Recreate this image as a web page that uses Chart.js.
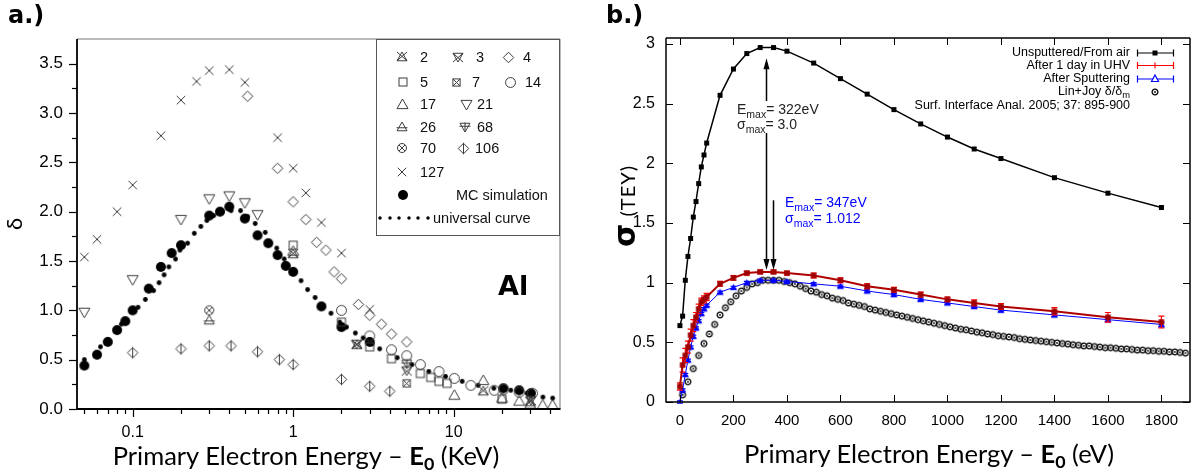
<!DOCTYPE html>
<html>
<head>
<meta charset="utf-8">
<script src="https://cdn.jsdelivr.net/npm/chart.js@4.4.1/dist/chart.umd.min.js"></script>
<style>
  body { margin: 0; background: #fff; }
  #wrap { position: relative; width: 1196px; height: 476px; overflow: hidden; background: #fff; }
  canvas { position: absolute; top: 0; }
  .t { position: absolute; white-space: nowrap; color: #000; line-height: 1; }
  .panel { font-family: "DejaVu Sans", sans-serif; font-weight: bold; font-size: 24px; }
  .axt { font-family: Lato, sans-serif; font-size: 25.5px; transform: translateX(-50%); }
  .axt sub { font-size: 70%; vertical-align: -0.3em; line-height: 0; }
</style>
</head>
<body>
<div id="wrap">
  <canvas id="chartA" width="600" height="476" style="left:0"></canvas>
  <canvas id="chartB" width="596" height="476" style="left:600px"></canvas>
  <div class="t panel" style="left:8px;top:3px">a.)</div>
  <div class="t panel" style="left:606px;top:3px">b.)</div>
  <div class="t" style="left:498px;top:270px;font:bold 27px 'DejaVu Sans',sans-serif">Al</div>
  <div class="t axt" style="left:306px;top:443px">Primary Electron Energy – <b>E<sub>0</sub></b> (KeV)</div>
  <div class="t axt" style="left:929px;top:441px">Primary Electron Energy – <b>E<sub>0</sub></b> (eV)</div>
  <div class="t" style="left:625px;top:206px;transform:translate(-50%,-50%) rotate(-90deg);font-family:Lato,sans-serif;font-size:20px;letter-spacing:1px">
    <b style="font-family:'DejaVu Sans',sans-serif;font-size:30px">σ</b> (TEY)</div>
</div>
<script>
// ---------- panel a: yield δ vs E0 (keV), log x ----------
const aSym2 = [[1.0,1.57],[2.5,0.65],[15.3,0.18],[30,0.07]];
const aSym3 = [[2.48,0.66],[5.1,0.39],[30.3,0.09]];
const aSym4 = [[0.52,3.17],[0.8,2.44],[1.0,2.10],[1.2,1.92],[1.4,1.69],[1.6,1.61],[1.8,1.39],[2.0,1.32],[2.55,1.06],[3.0,0.95],[3.55,0.86],[4.1,0.76],[5.1,0.68]];
const aSym5 = [[1.0,1.66],[2.0,0.88],[3.0,0.63],[4.1,0.51],[6.2,0.36],[7.2,0.32],[8.1,0.28],[9.1,0.26],[20,0.10]];
const aSym7 = [[5.1,0.26]];
const aSym14 = [[2.0,1.0],[3.0,0.74],[4.1,0.60],[5.1,0.54],[6.2,0.45],[8.1,0.38],[10.1,0.31],[12.8,0.24],[17.9,0.19],[20.5,0.20],[25.6,0.17],[31,0.16]];
const aSym17 = [[1.0,1.60],[10.1,0.14],[15.3,0.29],[20,0.11],[25.6,0.08],[30,0.05],[35.9,0.04],[41.4,0.04]];
const aSym21 = [[0.05,0.98],[0.1,1.31],[0.2,1.92],[0.3,2.13],[0.4,2.16],[0.5,2.09],[0.6,1.97]];
const aSym26 = [[0.3,0.90]];
const aSym68 = [[5.1,0.46]];
const aSym70 = [[0.3,1.0]];
const aSym106 = [[0.1,0.57],[0.2,0.61],[0.3,0.64],[0.41,0.64],[0.6,0.58],[0.82,0.50],[1.0,0.45],[2.0,0.30],[3.0,0.23],[4.0,0.18]];
const aSym127 = [[0.05,1.54],[0.06,1.72],[0.08,2.0],[0.1,2.27],[0.15,2.77],[0.2,3.13],[0.25,3.32],[0.3,3.43],[0.4,3.44],[0.5,3.31],[0.8,2.75],[1.0,2.44],[1.2,2.19],[1.5,1.89],[2.0,1.58],[3.0,1.01]];
const aMC = [[0.05,0.44],[0.06,0.55],[0.07,0.68],[0.08,0.80],[0.09,0.89],[0.1,1.0],[0.126,1.22],[0.15,1.44],[0.175,1.58],[0.2,1.66],[0.3,1.96],[0.35,2.0],[0.4,2.05],[0.5,1.93],[0.6,1.76],[0.7,1.68],[0.8,1.56],[0.9,1.45],[1.0,1.39],[1.5,1.04],[2.0,0.83],[3.0,0.68],[20.4,0.21],[25.6,0.19],[30.3,0.16]];
const aUniversal = [[0.05,0.50],[0.063,0.63],[0.07,0.70],[0.085,0.86],[0.108,1.03],[0.12,1.11],[0.135,1.20],[0.146,1.28],[0.157,1.36],[0.168,1.44],[0.185,1.52],[0.197,1.61],[0.22,1.68],[0.242,1.78],[0.266,1.85],[0.29,1.91],[0.32,1.96],[0.36,2.0],[0.41,2.01],[0.47,2.01],[0.52,1.95],[0.58,1.88],[0.67,1.79],[0.79,1.63],[0.88,1.52],[1.0,1.41],[1.12,1.30],[1.23,1.21],[1.37,1.13],[1.53,1.05],[1.72,0.97],[1.95,0.88],[2.15,0.83],[2.44,0.77],[2.73,0.72],[3.1,0.66],[3.46,0.61],[4.45,0.52],[5.5,0.45],[7.0,0.38],[8.9,0.33],[11.3,0.28],[14.2,0.24],[17.8,0.21],[22.7,0.19],[28.6,0.16],[36,0.12],[41.4,0.11]];

const aTicksX = [0.1, 1, 10];
const aTickLabelsX = ['0.1', '1', '10'];
const aMinorX = [0.05,0.06,0.07,0.08,0.09,0.2,0.3,0.4,0.5,0.6,0.7,0.8,0.9,2,3,4,5,6,7,8,9,20,30,40];
const aTicksY = [0, 0.5, 1, 1.5, 2, 2.5, 3, 3.5];
const aMinorY = [0.25, 0.75, 1.25, 1.75, 2.25, 2.75, 3.25];

// ---------- panel b: TEY vs E0 (eV) ----------
const bEnergy = [0,10,20,30,40,50,60,70,80,90,100,150,200,250,300,350,400,500,600,700,800,900,1000,1100,1200,1400,1600,1800];
const bUnsputtered = [0.64,0.72,1.02,1.22,1.37,1.55,1.68,1.83,1.97,2.07,2.17,2.57,2.79,2.92,2.97,2.97,2.94,2.84,2.71,2.58,2.45,2.33,2.22,2.12,2.04,1.88,1.75,1.63];
const bUhv = [0.13,0.31,0.39,0.46,0.56,0.64,0.71,0.78,0.84,0.86,0.88,0.99,1.04,1.08,1.09,1.09,1.08,1.06,1.02,0.97,0.94,0.90,0.86,0.83,0.80,0.76,0.71,0.67];
const bUhvErr = [0.03,0.06,0.06,0.05,0.05,0.05,0.04,0.04,0.03,0.03,0.03,0.02,0.02,0.015,0.015,0.015,0.015,0.02,0.02,0.02,0.02,0.02,0.02,0.025,0.025,0.03,0.04,0.05];
const bSputtered = [0.0,0.10,0.23,0.35,0.46,0.55,0.62,0.68,0.74,0.78,0.81,0.92,0.96,1.00,1.02,1.02,1.01,0.99,0.97,0.93,0.90,0.86,0.83,0.80,0.77,0.73,0.69,0.65];
const bSputteredErr = [0.01,0.01,0.01,0.01,0.01,0.01,0.01,0.01,0.01,0.01,0.01,0.01,0.01,0.01,0.01,0.01,0.01,0.01,0.01,0.01,0.01,0.01,0.01,0.01,0.015,0.015,0.015,0.02];
const ljEnergy = [10,30,50,70,90,110,130,150,170,190,
  210,230,250,270,290,310,330,350,370,390,
  410,430,450,470,490,510,530,550,570,590,
  610,630,650,670,690,710,730,750,770,790,
  810,830,850,870,890,910,930,950,970,990,
  1010,1030,1050,1070,1090,1110,1130,1150,1170,1190,
  1210,1230,1250,1270,1290,1310,1330,1350,1370,1390,
  1410,1430,1450,1470,1490,1510,1530,1550,1570,1590,
  1610,1630,1650,1670,1690,1710,1730,1750,1770,1790,
  1810,1830,1850,1870,1890];
const ljTey = [0.06,0.17,0.28,0.39,0.49,0.57,0.65,0.73,0.79,0.84,
  0.89,0.93,0.96,0.99,1.00,1.02,1.02,1.02,1.02,1.01,
  1.00,0.99,0.97,0.95,0.93,0.92,0.90,0.89,0.87,0.86,
  0.85,0.83,0.82,0.81,0.80,0.78,0.77,0.76,0.75,0.74,
  0.73,0.72,0.71,0.70,0.69,0.68,0.67,0.66,0.65,0.64,
  0.63,0.62,0.61,0.605,0.595,0.585,0.58,0.57,0.565,0.555,
  0.55,0.545,0.54,0.53,0.525,0.52,0.515,0.51,0.505,0.50,
  0.495,0.49,0.485,0.48,0.475,0.47,0.47,0.465,0.46,0.455,
  0.455,0.45,0.445,0.445,0.44,0.435,0.435,0.43,0.43,0.425,
  0.425,0.42,0.42,0.415,0.41];

const emaxBlack = 322, sigmaMaxBlack = 3.0;
const emaxBlue = 347, sigmaMaxBlue = 1.012;

const bTicksX = [0,200,400,600,800,1000,1200,1400,1600,1800];
const bTicksY = [0, 0.5, 1, 1.5, 2, 2.5, 3];
const bTickLabelsY = ['0', '0.5', '1', '1.5', '2', '2.5', '3'];

// ---------- helpers ----------
const FONT = '"Liberation Sans", Arial, sans-serif';
Chart.defaults.font.family = FONT;
Chart.defaults.color = '#000';

const pairs = arr => arr.map(([x, y]) => ({x, y}));
const xy = (xs, ys) => xs.map((x, i) => ({x, y: ys[i]}));

function marker(kind, size, color, lw) {
  const W = Math.ceil(size + 4);
  const c = document.createElement('canvas');
  c.width = c.height = W;
  const g = c.getContext('2d');
  g.translate(W / 2, W / 2);
  g.strokeStyle = color; g.fillStyle = color; g.lineWidth = lw || 1;
  const r = size / 2;
  const poly = pts => { g.beginPath(); pts.forEach((p, i) => i ? g.lineTo(p[0], p[1]) : g.moveTo(p[0], p[1])); g.closePath(); };
  const line = (x1, y1, x2, y2) => { g.beginPath(); g.moveTo(x1, y1); g.lineTo(x2, y2); g.stroke(); };
  const up = [[0, -r], [r, r * 0.75], [-r, r * 0.75]];
  const dn = [[0, r], [r, -r * 0.75], [-r, -r * 0.75]];
  const dia = [[0, -r], [r, 0], [0, r], [-r, 0]];
  const s = r * 0.8;
  switch (kind) {
    case 'tri': poly(up); g.stroke(); break;
    case 'triDown': poly(dn); g.stroke(); break;
    case 'triX': poly(up); g.stroke(); line(-r, -r, r, r * 0.75); line(r, -r, -r, r * 0.75); break;
    case 'triDownX': poly(dn); g.stroke(); line(-r, r, r, -r * 0.75); line(r, r, -r, -r * 0.75); break;
    case 'triBar': poly(up); g.stroke(); line(-r * 1.1, r * 0.15, r * 1.1, r * 0.15); break;
    case 'triDownPlus': poly(dn); g.stroke(); line(-r * 1.1, -r * 0.15, r * 1.1, -r * 0.15); line(0, -r * 0.9, 0, r); break;
    case 'diamond': poly(dia); g.stroke(); break;
    case 'diamondBar': poly(dia); g.stroke(); line(0, -r * 1.1, 0, r * 1.1); break;
    case 'square': g.strokeRect(-s, -s, 2 * s, 2 * s); break;
    case 'squareX': g.strokeRect(-s, -s, 2 * s, 2 * s); line(-s, -s, s, s); line(s, -s, -s, s); break;
    case 'circle': g.beginPath(); g.arc(0, 0, r * 0.9, 0, Math.PI * 2); g.stroke(); break;
    case 'circleX': g.beginPath(); g.arc(0, 0, r * 0.9, 0, Math.PI * 2); g.stroke();
      line(-r * 0.6, -r * 0.6, r * 0.6, r * 0.6); line(r * 0.6, -r * 0.6, -r * 0.6, r * 0.6); break;
    case 'x': line(-r * 0.85, -r * 0.85, r * 0.85, r * 0.85); line(r * 0.85, -r * 0.85, -r * 0.85, r * 0.85); break;
    case 'dot': g.beginPath(); g.arc(0, 0, r, 0, Math.PI * 2); g.fill(); break;
    case 'sqFill': g.fillRect(-r, -r, 2 * r, 2 * r); break;
    case 'triFill': poly(up); g.fill(); break;
    case 'lj': g.beginPath(); g.arc(0, 0, r, 0, Math.PI * 2); g.stroke();
      g.beginPath(); g.arc(0, 0, 0.9, 0, Math.PI * 2); g.fill(); break;
  }
  return c;
}

const GREY = '#3c3c3c';
const mkA = {
  '2': marker('triX', 10, GREY), '3': marker('triDownX', 10, GREY), '4': marker('diamond', 10.5, GREY),
  '5': marker('square', 10, GREY), '7': marker('squareX', 9, GREY), '14': marker('circle', 11, GREY),
  '17': marker('tri', 11, GREY), '21': marker('triDown', 11, GREY), '26': marker('triBar', 10, GREY),
  '68': marker('triDownPlus', 10, GREY), '70': marker('circleX', 10, GREY), '106': marker('diamondBar', 10.5, GREY),
  '127': marker('x', 10, GREY),
  mc: marker('dot', 10, '#000'), uni: marker('dot', 4.8, '#000')
};

// ticks + frame drawn from the scales
const axisDeco = {
  id: 'axisDeco',
  afterDatasetsDraw(chart, args, o) {
    const {ctx, chartArea: a, scales} = chart;
    ctx.save();
    ['x', 'y'].forEach(k => {
      const c = o[k], s = scales[k];
      ctx.strokeStyle = '#000'; ctx.lineWidth = c.width;
      const draw = (vals, len) => vals.forEach(v => {
        const p = Math.round(s.getPixelForValue(v)) + 0.5;
        ctx.beginPath();
        if (k === 'x') {
          const d = c.inside ? -len : len;
          ctx.moveTo(p, a.bottom); ctx.lineTo(p, a.bottom + d);
          if (c.mirror) { ctx.moveTo(p, a.top); ctx.lineTo(p, a.top - d); }
        } else {
          const d = c.inside ? len : -len;
          ctx.moveTo(a.left, p); ctx.lineTo(a.left + d, p);
          if (c.mirror) { ctx.moveTo(a.right, p); ctx.lineTo(a.right - d, p); }
        }
        ctx.stroke();
      });
      draw(c.major, c.majorLen);
      draw(c.minor || [], c.minorLen);
    });
    const f = o.frame;
    const seg = (x1, y1, x2, y2, col, w) => { ctx.strokeStyle = col; ctx.lineWidth = w; ctx.beginPath(); ctx.moveTo(x1, y1); ctx.lineTo(x2, y2); ctx.stroke(); };
    seg(a.left, a.top, a.right, a.top, f.top, f.thin);
    seg(a.right, a.top, a.right, a.bottom, f.top, f.thin);
    seg(a.left, a.bottom, a.right + 0.5, a.bottom, f.main, f.thick);
    seg(a.left, a.top, a.left, a.bottom + 0.5, f.main, f.thick);
    ctx.restore();
  }
};

// ---------- chart a ----------
const aSeries = [
  ['2', aSym2], ['3', aSym3], ['4', aSym4], ['5', aSym5], ['7', aSym7], ['14', aSym14], ['17', aSym17],
  ['21', aSym21], ['26', aSym26], ['68', aSym68], ['70', aSym70], ['106', aSym106], ['127', aSym127]
];
const aDatasets = aSeries.map(([lab, d]) => ({ label: lab, data: pairs(d), pointStyle: mkA[lab], pointRadius: 5 }));
aDatasets.push({ label: 'MC simulation', data: pairs(aMC), pointStyle: mkA.mc, pointRadius: 5 });
aDatasets.push({ label: 'universal curve', data: pairs(aUniversal), pointStyle: mkA.uni, pointRadius: 2 });

const legendA = {
  id: 'legendA',
  afterDraw(chart) {
    const {ctx, chartArea: a} = chart;
    const W = 184, H = 196, L = a.right - W, T = a.top;
    ctx.save();
    ctx.fillStyle = '#fff'; ctx.fillRect(L, T, W, H);
    ctx.strokeStyle = '#555'; ctx.lineWidth = 1;
    ctx.strokeRect(L + 0.5, T + 0.5, W - 1, H);
    ctx.font = '14.5px ' + FONT; ctx.fillStyle = '#111'; ctx.textBaseline = 'middle'; ctx.textAlign = 'left';
    const rows = [18, 43, 65, 88, 109, 133, 156, 179];
    const items = [
      ['2', 0, 26, 44], ['3', 0, 82, 100], ['4', 0, 132, 147],
      ['5', 1, 27, 44], ['7', 1, 80, 96], ['14', 1, 134, 149],
      ['17', 2, 26, 44], ['21', 2, 90, 101],
      ['26', 3, 26, 44], ['68', 3, 89, 101],
      ['70', 4, 26, 44], ['106', 4, 87, 99],
      ['127', 5, 26, 44]
    ];
    const put = (img, x, y) => ctx.drawImage(img, Math.round(x - img.width / 2), Math.round(y - img.height / 2));
    items.forEach(([lab, r, mx, tx]) => {
      put(mkA[lab], L + mx, T + rows[r]);
      ctx.fillText(lab, L + tx, T + rows[r] + 1);
    });
    put(mkA.mc, L + 27, T + rows[6]);
    ctx.fillText('MC simulation', L + 80, T + rows[6] + 1);
    for (let i = 0; i < 6; i++) put(marker('dot', 3.5, '#000'), L + 4 + i * 9.5, T + rows[7]);
    ctx.fillText('universal curve', L + 57, T + rows[7] + 1);
    ctx.restore();
  }
};

new Chart(document.getElementById('chartA'), {
  type: 'scatter',
  data: { datasets: aDatasets },
  plugins: [axisDeco, legendA],
  options: {
    responsive: false, animation: false,
    layout: { padding: { left: 0, top: 39, right: 40, bottom: 0 } },
    plugins: {
      legend: { display: false }, tooltip: { enabled: false },
      axisDeco: {
        x: { major: aTicksX, minor: aMinorX, majorLen: 8, minorLen: 5, inside: false, width: 1.2 },
        y: { major: aTicksY, minor: aMinorY, majorLen: 8, minorLen: 5, inside: false, width: 1.2 },
        frame: { main: '#000', top: '#777', thick: 1.8, thin: 1 }
      }
    },
    scales: {
      x: {
        type: 'logarithmic', min: 0.045, max: 46,
        grid: { display: false, drawTicks: false }, border: { display: false },
        ticks: { font: { size: 16 }, color: '#000', padding: 14, maxRotation: 0, autoSkip: false,
          callback: v => aTickLabelsX[aTicksX.indexOf(v)] },
        afterBuildTicks: s => { s.ticks = aTicksX.map(v => ({ value: v })); },
        afterFit: s => { s.height = 67; }
      },
      y: {
        min: 0, max: 3.75,
        grid: { display: false, drawTicks: false }, border: { display: false },
        ticks: { font: { size: 17 }, color: '#000', padding: 14, callback: v => v.toFixed(1) },
        afterBuildTicks: s => { s.ticks = aTicksY.map(v => ({ value: v })); },
        afterFit: s => { s.width = 77; },
        title: { display: true, text: 'δ', font: { size: 22, family: 'Lato, sans-serif' }, padding: { top: 2, bottom: 0 } }
      }
    }
  }
});

// ---------- chart b ----------
const mkB = {
  black: marker('sqFill', 5, '#000'),
  red: marker('sqFill', 5.5, '#a00000'),
  blue: marker('triFill', 7, '#0000ff'),
  lj: marker('lj', 5.8, '#000', 1.3)
};

const errorBars = {
  id: 'errorBars',
  beforeDatasetDraw(chart, args) {
    const ds = chart.data.datasets[args.index];
    if (!ds.errors) return;
    const {ctx, scales: {y}} = chart;
    ctx.save();
    ctx.strokeStyle = ds.errorColor; ctx.lineWidth = 1.2;
    args.meta.data.forEach((pt, i) => {
      const v = ds.data[i].y, e = ds.errors[i];
      const y1 = y.getPixelForValue(v + e), y2 = y.getPixelForValue(v - e);
      ctx.beginPath();
      ctx.moveTo(pt.x, y1); ctx.lineTo(pt.x, y2);
      ctx.moveTo(pt.x - 3, y1); ctx.lineTo(pt.x + 3, y1);
      ctx.moveTo(pt.x - 3, y2); ctx.lineTo(pt.x + 3, y2);
      ctx.stroke();
    });
    ctx.restore();
  }
};

function subText(ctx, x, y, parts, size) {
  parts.forEach(p => {
    const fs = p.sub ? size * 0.75 : size;
    ctx.font = fs + 'px ' + FONT;
    ctx.fillText(p.t, x, y + (p.sub ? size * 0.3 : 0));
    x += ctx.measureText(p.t).width;
  });
  return x;
}
function subWidth(ctx, parts, size) {
  let w = 0;
  parts.forEach(p => { ctx.font = (p.sub ? size * 0.75 : size) + 'px ' + FONT; w += ctx.measureText(p.t).width; });
  return w;
}

const annotB = {
  id: 'annotB',
  afterDatasetsDraw(chart) {
    const {ctx, scales: {x, y}} = chart;
    ctx.save();
    const xb = Math.round(x.getPixelForValue(emaxBlack)) + 0.5;
    const xu = Math.round(x.getPixelForValue(emaxBlue)) + 0.5;
    const yTop = y.getPixelForValue(2.88), yLow = y.getPixelForValue(1.105), yBlue = y.getPixelForValue(1.69);
    ctx.strokeStyle = '#000'; ctx.fillStyle = '#000'; ctx.lineWidth = 1.5;
    const head = (px, tip, dir) => {
      ctx.beginPath(); ctx.moveTo(px, tip); ctx.lineTo(px - 3, tip - dir * 11); ctx.lineTo(px + 3, tip - dir * 11); ctx.closePath(); ctx.fill();
    };
    ctx.beginPath(); ctx.moveTo(xb, yTop + 8); ctx.lineTo(xb, yLow - 8); ctx.stroke();
    head(xb, yTop, -1); head(xb, yLow, 1);
    ctx.beginPath(); ctx.moveTo(xu, yBlue); ctx.lineTo(xu, yLow - 8); ctx.stroke();
    head(xu, yLow, 1);
    // black annotation
    ctx.fillStyle = '#fff'; ctx.fillRect(135, 101, 86, 32);
    ctx.fillStyle = '#222'; ctx.textBaseline = 'alphabetic'; ctx.textAlign = 'left';
    subText(ctx, 137, 114, [{t: 'E'}, {t: 'max', sub: true}, {t: '= ' + emaxBlack + 'eV'}], 14);
    subText(ctx, 137, 129, [{t: 'σ'}, {t: 'max', sub: true}, {t: '= ' + sigmaMaxBlack.toFixed(1)}], 14);
    ctx.fillStyle = '#0000ff';
    subText(ctx, 185, 207, [{t: 'E'}, {t: 'max', sub: true}, {t: '= ' + emaxBlue + 'eV'}], 14);
    subText(ctx, 185, 223, [{t: 'σ'}, {t: 'max', sub: true}, {t: '= ' + sigmaMaxBlue}], 14);
    ctx.restore();
  }
};

const legendB = {
  id: 'legendB',
  afterDraw(chart) {
    const {ctx} = chart;
    const tx = 530, s0 = 537, s1 = 574, sm = 555;
    const rows = [53, 65.5, 79, 92, 106];
    ctx.save();
    ctx.fillStyle = '#000'; ctx.textBaseline = 'middle'; ctx.textAlign = 'right';
    ctx.font = '12.5px ' + FONT;
    const names = chart.data.datasets.map(d => d.label);
    ctx.fillText(names[0], tx, rows[0]);
    ctx.fillText(names[1], tx, rows[1]);
    ctx.fillText(names[2], tx, rows[2]);
    ctx.fillText('Surf. Interface Anal. 2005; 37: 895-900', tx, rows[4]);
    ctx.textAlign = 'left';
    const lj = [{t: 'Lin+Joy δ/δ'}, {t: 'm', sub: true}];
    subText(ctx, tx - subWidth(ctx, lj, 12.5), rows[3], lj, 12.5);
    const sample = (y, col) => {
      ctx.strokeStyle = col; ctx.lineWidth = 1.2;
      ctx.beginPath();
      ctx.moveTo(s0, y); ctx.lineTo(s1, y);
      ctx.moveTo(s0 + 0.5, y - 3.5); ctx.lineTo(s0 + 0.5, y + 3.5);
      ctx.moveTo(s1 - 0.5, y - 3.5); ctx.lineTo(s1 - 0.5, y + 3.5);
      ctx.stroke();
    };
    sample(rows[0], '#000'); ctx.fillStyle = '#000'; ctx.fillRect(sm - 2.5, rows[0] - 2.5, 5, 5);
    sample(rows[1], '#ff0000'); ctx.beginPath(); ctx.moveTo(sm, rows[1] - 3); ctx.lineTo(sm, rows[1] + 3); ctx.stroke();
    sample(rows[2], '#0000ff');
    ctx.beginPath(); ctx.moveTo(sm, rows[2] - 4); ctx.lineTo(sm + 3.5, rows[2] + 2.5); ctx.lineTo(sm - 3.5, rows[2] + 2.5); ctx.closePath();
    ctx.fillStyle = '#fff'; ctx.fill(); ctx.stroke();
    ctx.drawImage(mkB.lj, Math.round(sm - mkB.lj.width / 2), Math.round(rows[3] - mkB.lj.height / 2));
    ctx.restore();
  }
};

new Chart(document.getElementById('chartB'), {
  type: 'scatter',
  data: {
    datasets: [
      { label: 'Unsputtered/From air', data: xy(bEnergy, bUnsputtered), showLine: true, borderColor: '#000', borderWidth: 1.5, pointStyle: mkB.black, pointRadius: 3 },
      { label: 'After 1 day in UHV', data: xy(bEnergy, bUhv), showLine: true, borderColor: '#b00000', borderWidth: 2, pointStyle: mkB.red, pointRadius: 3, errors: bUhvErr, errorColor: '#ff0000' },
      { label: 'After Sputtering', data: xy(bEnergy, bSputtered), showLine: true, borderColor: '#0000ff', borderWidth: 1, pointStyle: mkB.blue, pointRadius: 3, errors: bSputteredErr, errorColor: '#0000ff' },
      { label: 'Lin+Joy', data: xy(ljEnergy, ljTey), showLine: false, pointStyle: mkB.lj, pointRadius: 3 }
    ]
  },
  plugins: [errorBars, axisDeco, annotB, legendB],
  options: {
    responsive: false, animation: false,
    layout: { padding: { left: 0, top: 38, right: 5, bottom: 0 } },
    plugins: {
      legend: { display: false }, tooltip: { enabled: false },
      axisDeco: {
        x: { major: bTicksX, majorLen: 7, inside: true, mirror: true, width: 1 },
        y: { major: bTicksY, majorLen: 7, inside: true, mirror: true, width: 1 },
        frame: { main: '#000', top: '#000', thick: 1.5, thin: 1.5 }
      }
    },
    scales: {
      x: {
        type: 'linear', min: -52, max: 1907,
        grid: { display: false, drawTicks: false }, border: { display: false },
        ticks: { font: { size: 15 }, color: '#000', padding: 10, maxRotation: 0, autoSkip: false,
          callback: v => String(v) },
        afterBuildTicks: s => { s.ticks = bTicksX.map(v => ({ value: v })); },
        afterFit: s => { s.height = 74; }
      },
      y: {
        min: 0, max: 3.05,
        grid: { display: false, drawTicks: false }, border: { display: false },
        ticks: { font: { size: 16 }, color: '#000', padding: 11, callback: v => bTickLabelsY[bTicksY.indexOf(v)] },
        afterBuildTicks: s => { s.ticks = bTicksY.map(v => ({ value: v })); },
        afterFit: s => { s.width = 66; }
      }
    }
  }
});
</script>
</body>
</html>
